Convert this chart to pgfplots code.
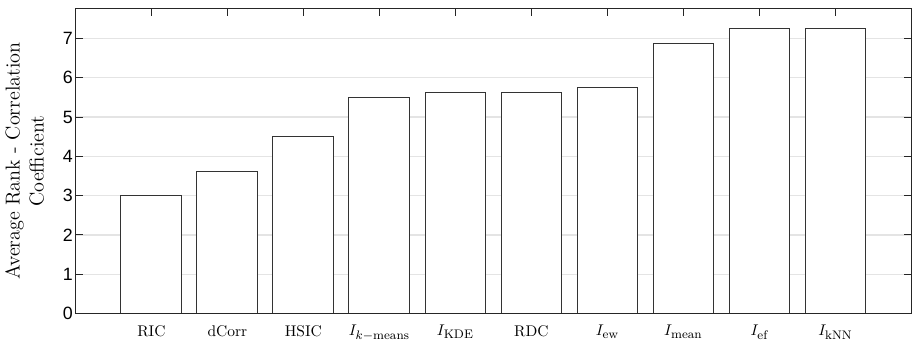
\documentclass[border=0pt]{standalone}
\usepackage{fontspec}
\usepackage{pgfplots}
\pgfplotsset{compat=1.18}
\newfontfamily\hel{Liberation Sans}
\DeclareMathSizes{10}{10}{8}{6}
\definecolor{gridgray}{RGB}{228,228,228}
\definecolor{framec}{RGB}{38,38,38}
\begin{document}
\begin{tikzpicture}
\begin{axis}[
  scale only axis,
  width=540pt, height=197pt,
  xmin=0, xmax=11, ymin=0, ymax=7.76,
  xtick={1,...,10},
  xticklabels={RIC, dCorr, HSIC, $I_{k-\mathrm{means}}$, $I_{\mathrm{KDE}}$, RDC, $I_{\mathrm{ew}}$, $I_{\mathrm{mean}}$, $I_{\mathrm{ef}}$, $I_{\mathrm{kNN}}$},
  ytick={0,...,7},
  tick align=inside,
  major tick length=5pt,
  every tick/.style={framec, line width=0.6pt},
  axis line style={framec, line width=0.7pt},
  ymajorgrids,
  grid style={gridgray, line width=0.8pt},
  xticklabel style={font=\fontsize{10}{12}\selectfont, yshift=-4pt},
  yticklabel style={font=\hel\fontsize{11.5}{13}\selectfont, inner sep=1.5pt},
  /pgf/number format/assume math mode=true,
  ylabel={Average Rank - Correlation\\Coefficient},
  ylabel style={align=center, font=\fontsize{13}{15.5}\selectfont,
    at={(axis description cs:-0.031,0.5)}, anchor=south},
]
\addplot[ybar, bar width=0.8, bar shift=0pt, fill=white, draw=black!80, line width=0.6pt] coordinates {
  (1,3.0) (2,3.625) (3,4.5) (4,5.5) (5,5.625) (6,5.625) (7,5.75) (8,6.875) (9,7.25) (10,7.25)
};
\draw[framec, line width=1.2pt] (rel axis cs:0,0) -- (rel axis cs:1,0);
\end{axis}
\path (current axis.north) -- ++(0,5.5pt);
\end{tikzpicture}
\end{document}
